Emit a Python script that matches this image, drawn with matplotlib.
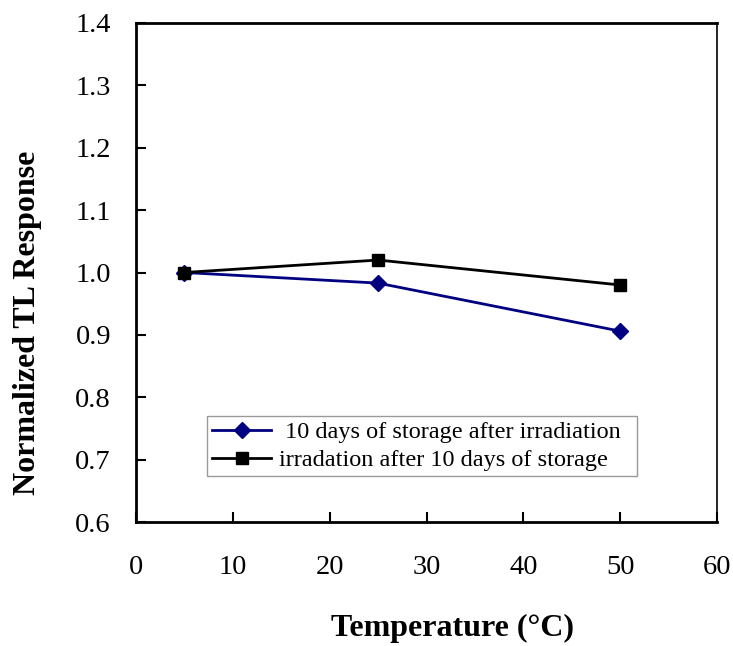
import matplotlib
matplotlib.use("Agg")
import matplotlib.pyplot as plt

temps = [5, 25, 50]
storage_after_irr = [1.0, 0.983, 0.906]
irr_after_storage = [1.0, 1.020, 0.980]
label1 = " 10 days of storage after irradiation"
label2 = "irradation after 10 days of storage"
xticks = [0, 10, 20, 30, 40, 50, 60]
yticks = [0.6, 0.7, 0.8, 0.9, 1.0, 1.1, 1.2, 1.3, 1.4]

plt.rcParams['font.family'] = ['Liberation Serif', 'DejaVu Serif']

fig = plt.figure(figsize=(7.33, 6.46), dpi=100)
ax = fig.add_axes([136/733, 1-522/646, 581/733, 499/646])

ax.plot(temps, storage_after_irr, color='#000080', marker='D', markersize=8.5, lw=2, label=label1)
ax.plot(temps, irr_after_storage, color='black', marker='s', markersize=9, lw=2, label=label2)

ax.set_xlim(0, 60)
ax.set_ylim(0.6, 1.4)
ax.set_xticks(xticks)
ax.set_yticks(yticks)
ax.set_yticklabels([f"{v:.1f}" for v in yticks])
ax.tick_params(direction='in', length=7, width=1.5, labelsize=20.5)
ax.tick_params(axis='y', pad=18)
ax.tick_params(axis='x', pad=24)
for s in ['left', 'bottom', 'top']:
    ax.spines[s].set_linewidth(2)
ax.spines['right'].set_linewidth(1.2)

ax.set_xlabel("Temperature (°C)", fontsize=23, fontweight='bold')
ax.xaxis.label.set_va('center')
ax.xaxis.set_label_coords((452-136)/581, (522-628)/499)
ax.set_ylabel("Normalized TL Response", fontsize=23, fontweight='bold')
ax.yaxis.label.set_va('center')
ax.yaxis.set_label_coords((28-136)/581, (522-323)/499)

leg = ax.legend(loc='lower left', bbox_to_anchor=(0.122, 0.092, 0.74, 0.124), mode='expand',
                fontsize=17.5, frameon=True, fancybox=False, borderaxespad=0,
                handlelength=2.45, handletextpad=0.3, labelspacing=0.25, borderpad=0.2)
leg.get_frame().set_edgecolor('#808080')
leg.get_frame().set_linewidth(1)

fig.savefig("out.png", dpi=100)
